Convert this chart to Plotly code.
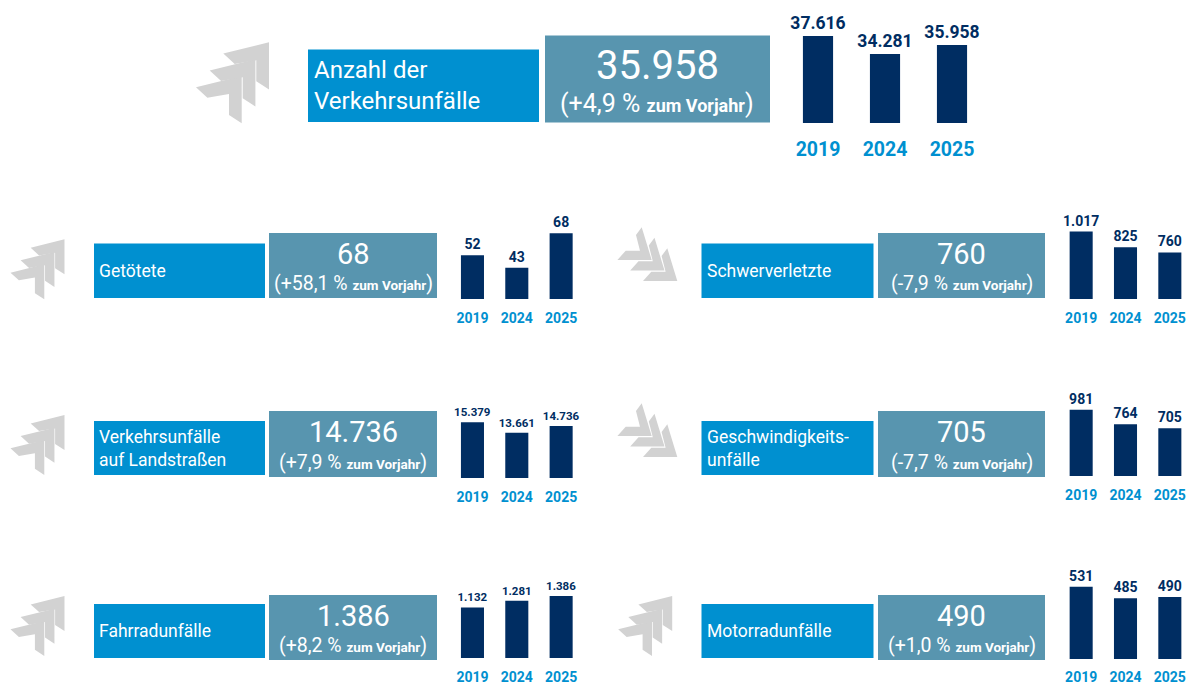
import plotly.graph_objects as go

W, H = 1194, 684
FONT = "Roboto"
NAVY, BLUE, TEAL, GRAY = "#002D62", "#0090D0", "#5895AF", "#D2D2D2"

years = ["2019", "2024", "2025"]

titles = ["Anzahl der<br>Verkehrsunfälle", "Getötete", "Schwerverletzte",
          "Verkehrsunfälle<br>auf Landstraßen", "Geschwindigkeits-<br>unfälle",
          "Fahrradunfälle", "Motorradunfälle"]
headline = ["35.958", "68", "760", "14.736", "705", "1.386", "490"]
changes = ["+4,9", "+58,1", "-7,9", "+7,9", "-7,7", "+8,2", "+1,0"]
v_all = [37616, 34281, 35958]
v_killed = [52, 43, 68]
v_severe = [1017, 825, 760]
v_rural = [15379, 13661, 14736]
v_speed = [981, 764, 705]
v_bike = [1132, 1281, 1386]
v_motor = [531, 485, 490]
series = [v_all, v_killed, v_severe, v_rural, v_speed, v_bike, v_motor]
labels = [[f"{v:,}".replace(",", ".") for v in s] for s in series]

# axis start and px-per-unit of each truncated panel
axis_base = [21500, 20.3, 188.8, 6272, 0, 0, 241]
axis_ppu = [0.0054, 1.381, 0.0815, 0.00613, 0.0676, 0.0447, 0.249]
directions = ["up", "up", "down", "up", "down", "up", "up"]

panels = [
    dict(px=(784.5, 985.5), bottom=123, ph=120, blue=(308, 539, 49.5, 122), teal=(545, 770, 35.5, 122.5),
         arrow=(241.7, 76), s=1.0, val=17.5, yr=19.5, tick=9, bw=.45, big=40, pct=25, small=18, title=24, big_dy=-14, pct_dy=24, pad=4),
    dict(px=(450.3, 583.3), bottom=299, blue=(94, 265, 243.5, 298), teal=(269, 437, 233, 298), arrow=(44.3, 264.3)),
    dict(px=(1059, 1192), bottom=299, blue=(701.5, 873.5, 243.5, 298), teal=(878, 1045, 233, 298), arrow=(651.7, 260), s=1.0),
    dict(px=(450.3, 583.3), bottom=478, blue=(94, 265, 421, 475), teal=(269, 437, 411, 477), arrow=(44.3, 440), val=11.5),
    dict(px=(1059, 1192), bottom=476, blue=(701.5, 873.5, 421, 475), teal=(878, 1045, 411, 477), arrow=(651.7, 436), s=1.0),
    dict(px=(450.3, 583.3), bottom=658, blue=(94, 265, 604, 658), teal=(269, 437, 595, 660), arrow=(44.3, 621), val=11.5),
    dict(px=(1059, 1192), bottom=659, blue=(701.5, 873.5, 604, 658), teal=(878, 1045, 595, 660), arrow=(652, 621), tick=5),
]
small_defaults = dict(ph=100, s=0.74, val=14, yr=14, tick=6, bw=.52, big=29, pct=19.5, small=13.5, title=17.5, big_dy=-12, pct_dy=18, pad=3)

UP = [(-45.7, 11.3), (0, 0), (0, 47.3), (-12.7, 39), (-12.7, 18), (-34.3, 21.7)]
UP_OFF = [(0, 0), (13.7, -16.7), (27.3, -33.7)]
DOWN = [(-10, -32.7), (0, 0), (-34.3, 0), (-26, -9.3), (-11.7, -9.3), (-15.7, -25)]
DOWN_OFF = [(0, 0), (12.8, 10.5), (25.6, 21)]


def fx(x):
    return x / W


def fy(y):
    return 1 - y / H


fig = go.Figure()
shapes, annotations = [], []
layout_axes = {}

for i, p0 in enumerate(panels):
    p = {**small_defaults, **p0}
    n = "" if i == 0 else str(i + 1)
    fig.add_trace(go.Bar(
        x=years, y=series[i], text=labels[i], textposition="outside", cliponaxis=False,
        constraintext="none", width=p["bw"], marker=dict(color=NAVY, line=dict(width=0)),
        textfont=dict(family=FONT, size=p["val"], color=NAVY, weight="bold"),
        xaxis=f"x{n}", yaxis=f"y{n}", showlegend=False, hoverinfo="x+y"))
    layout_axes[f"xaxis{n}"] = dict(
        domain=[fx(p["px"][0]), fx(p["px"][1])], anchor=f"y{n}", type="category", automargin=False,
        range=[-.5, 2.5], showgrid=False, zeroline=False, showline=False,
        ticks="outside", ticklen=p["tick"], tickcolor="rgba(0,0,0,0)",
        tickfont=dict(family=FONT, size=p["yr"], color=BLUE, weight="bold"))
    layout_axes[f"yaxis{n}"] = dict(
        domain=[fy(p["bottom"]), fy(p["bottom"] - p["ph"])], anchor=f"x{n}", automargin=False,
        range=[axis_base[i], axis_base[i] + p["ph"] / axis_ppu[i]], visible=False)

    for col, (x0, x1, y0, y1) in ((BLUE, p["blue"]), (TEAL, p["teal"])):
        shapes.append(dict(type="rect", xref="paper", yref="paper", x0=fx(x0), x1=fx(x1),
                           y0=fy(y1), y1=fy(y0), fillcolor=col, line=dict(width=0), layer="below"))

    shape_pts, offs = (UP, UP_OFF) if directions[i] == "up" else (DOWN, DOWN_OFF)
    s = p["s"]
    for ox, oy in offs:
        path = "M" + " L".join(
            f"{fx(p['arrow'][0] + (ox + dx) * s):.5f},{fy(p['arrow'][1] + (oy + dy) * s):.5f}"
            for dx, dy in shape_pts) + " Z"
        shapes.append(dict(type="path", xref="paper", yref="paper", path=path,
                           fillcolor=GRAY, line=dict(width=0), layer="below"))

    bx0, bx1, by0, by1 = p["blue"]
    annotations.append(dict(
        text=titles[i], x=fx(bx0 + p["pad"]), y=fy((by0 + by1) / 2), xref="paper", yref="paper",
        xanchor="left", yanchor="middle", align="left", showarrow=False,
        font=dict(family=FONT, size=p["title"], color="white")))
    tx0, tx1, ty0, ty1 = p["teal"]
    tc, tm = (tx0 + tx1) / 2, (ty0 + ty1) / 2
    annotations.append(dict(
        text=headline[i], x=fx(tc), y=fy(tm + p["big_dy"]), xref="paper", yref="paper",
        xanchor="center", yanchor="middle", showarrow=False,
        font=dict(family=FONT, size=p["big"], color="white")))
    annotations.append(dict(
        text=f"({changes[i]} % <b><span style='font-size:{p['small']}px'>zum Vorjahr</span></b>)",
        x=fx(tc), y=fy(tm + p["pct_dy"]), xref="paper", yref="paper",
        xanchor="center", yanchor="middle", showarrow=False,
        font=dict(family=FONT, size=p["pct"], color="white")))

fig.update_layout(width=W, height=H, margin=dict(l=0, r=0, t=0, b=0), autosize=False,
                  paper_bgcolor="white", plot_bgcolor="rgba(0,0,0,0)",
                  shapes=shapes, annotations=annotations, **layout_axes)
fig.write_html("out.html", config={"displayModeBar": False},
               post_script="document.body.style.margin='0';document.documentElement.style.overflow='hidden';")
